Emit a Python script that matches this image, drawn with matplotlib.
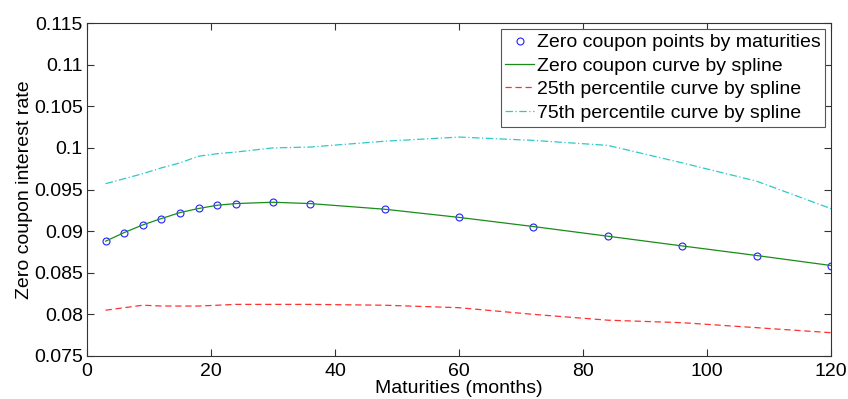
import matplotlib
matplotlib.use("Agg")
import matplotlib.pyplot as plt

plt.rcParams['font.family'] = ['Liberation Sans', 'DejaVu Sans']

# maturities in months
maturities = [3, 6, 9, 12, 15, 18, 21, 24, 30, 36, 48, 60, 72, 84, 96, 108, 120]

# zero coupon rates
zero_rates = [0.08879, 0.08983, 0.09075, 0.09151, 0.09223, 0.09272, 0.09311, 0.09331,
              0.09347, 0.09331, 0.09263, 0.09165, 0.09055, 0.08939, 0.08822, 0.08707, 0.08587]

p25_rates = [0.0805, 0.0808, 0.0811, 0.0810, 0.0810, 0.0810, 0.0811, 0.0812,
             0.0812, 0.0812, 0.0811, 0.0808, 0.0800, 0.0793, 0.0790, 0.0784, 0.0778]

p75_rates = [0.0957, 0.0963, 0.0969, 0.0976, 0.0982, 0.0990, 0.0993, 0.0995,
             0.1000, 0.1001, 0.1008, 0.1013, 0.1009, 0.1003, 0.0982, 0.0960, 0.0927]

yticks = [0.075, 0.08, 0.085, 0.09, 0.095, 0.1, 0.105, 0.11, 0.115]
ytick_labels = ['0.075', '0.08', '0.085', '0.09', '0.095', '0.1', '0.105', '0.11', '0.115']

fig = plt.figure(figsize=(8.48, 3.99), dpi=100)
ax = fig.add_axes([0.1026, 0.1078, 0.8774, 0.8345])

ax.plot(maturities, zero_rates, 'o', mfc='none', mec='#2020ff', ms=5, mew=0.8,
        label='Zero coupon points by maturities')
ax.plot(maturities, zero_rates, '-', color='#1a8c1a', lw=0.9,
        label='Zero coupon curve by spline')
ax.plot(maturities, p25_rates, '--', color='#ff3030', lw=0.9, dashes=(5, 3),
        label='25th percentile curve by spline')
ax.plot(maturities, p75_rates, '-.', color='#30c8c8', lw=0.9, dashes=(6, 2, 1, 2),
        label='75th percentile curve by spline')

ax.set_xlim(0, 120)
ax.set_ylim(0.075, 0.115)
ax.set_xticks(range(0, 121, 20))
ax.set_yticks(yticks)
ax.set_yticklabels(ytick_labels)
ax.tick_params(direction='in', top=True, right=True, labelsize=14, length=5,
               width=0.8, color='#333333')
ax.tick_params(axis='x', pad=5)
ax.tick_params(axis='y', pad=3)
for s in ax.spines.values():
    s.set_color('#333333')
    s.set_linewidth(0.8)

ax.set_xlabel('Maturities (months)', fontsize=14, labelpad=0)
ax.set_ylabel('Zero coupon interest rate', fontsize=14, labelpad=1)

leg = ax.legend(loc='upper right', fontsize=14, fancybox=False, framealpha=1,
                edgecolor='#555555', handlelength=1.45, handletextpad=0.15,
                borderaxespad=0.3, labelspacing=0.3, borderpad=0.25)
leg.get_frame().set_linewidth(0.8)

fig.savefig('out.png', dpi=100)
